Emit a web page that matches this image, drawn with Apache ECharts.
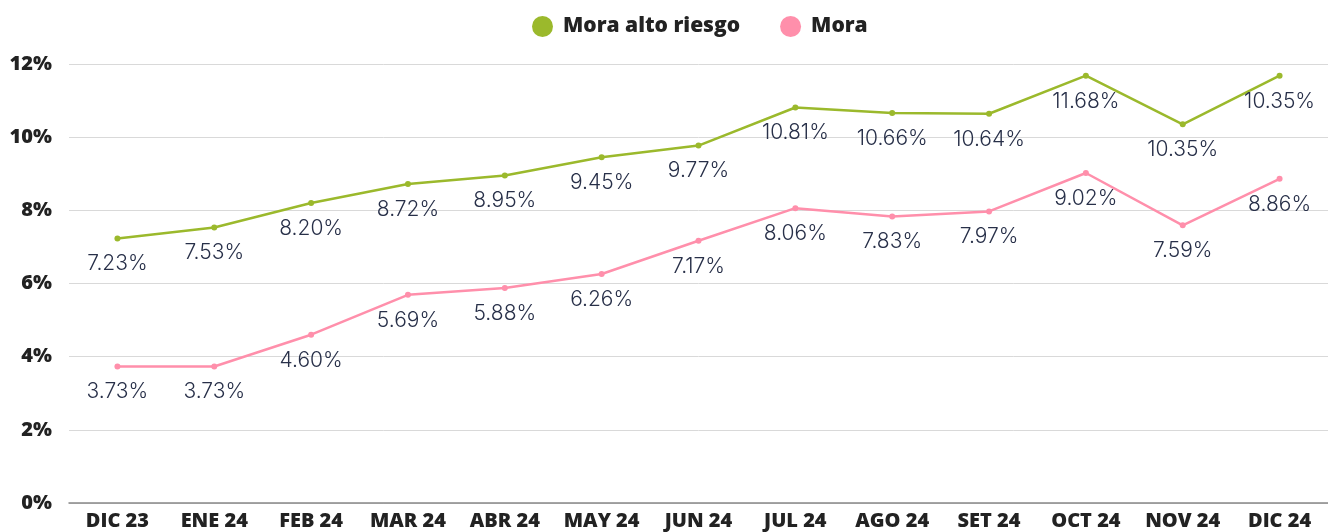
<!DOCTYPE html>
<html>
<head>
<meta charset="utf-8">
<script src="https://cdn.jsdelivr.net/npm/echarts@6/dist/echarts.min.js"></script>
<style>
  html, body { margin: 0; padding: 0; background: #fff; }
  #chart { width: 1328px; height: 532px; }
</style>
</head>
<body>
<div id="chart"></div>
<script>
const months = ['DIC 23', 'ENE 24', 'FEB 24', 'MAR 24', 'ABR 24', 'MAY 24', 'JUN 24',
  'JUL 24', 'AGO 24', 'SET 24', 'OCT 24', 'NOV 24', 'DIC 24']
const moraAltoRiesgo = [7.23, 7.53, 8.20, 8.72, 8.95, 9.45, 9.77, 10.81, 10.66, 10.64, 11.68, 10.35, 11.68]
const mora = [3.73, 3.73, 4.60, 5.69, 5.88, 6.26, 7.17, 8.06, 7.83, 7.97, 9.02, 7.59, 8.86]
// label text as printed on the source (last green label reads 10.35%)
const moraAltoRiesgoLabels = ['7.23%', '7.53%', '8.20%', '8.72%', '8.95%', '9.45%', '9.77%',
  '10.81%', '10.66%', '10.64%', '11.68%', '10.35%', '10.35%']
const moraLabels = ['3.73%', '3.73%', '4.60%', '5.69%', '5.88%', '6.26%', '7.17%',
  '8.06%', '7.83%', '7.97%', '9.02%', '7.59%', '8.86%']
const yTicks = [0, 2, 4, 6, 8, 10, 12]

const GREEN = '#9BB92C'
const PINK = '#FF8FAB'
const LABEL_COLOR = '#283049'

const chart = echarts.init(document.getElementById('chart'))

function lineSeries(name, values, labels, color) {
  return {
    name,
    type: 'line',
    data: values,
    symbol: 'circle',
    symbolSize: 6,
    lineStyle: { color, width: 2.5 },
    itemStyle: { color },
    label: {
      show: true,
      position: 'bottom',
      distance: 12,
      color: LABEL_COLOR,
      fontFamily: 'Inter',
      fontWeight: 300,
      fontSize: 21,
      formatter: (p) => labels[p.dataIndex],
    },
  }
}

chart.setOption({
  animation: false,
  legend: {
    top: 11,
    left: 527,
    icon: 'circle',
    itemWidth: 21,
    itemHeight: 21,
    itemGap: 40,
    textStyle: {
      color: '#222',
      fontFamily: 'Open Sans',
      fontWeight: 800,
      fontSize: 21,
      padding: [0, 0, 0, 5],
    },
    data: ['Mora alto riesgo', 'Mora'],
  },
  grid: { left: 69, width: 1263, top: 64, bottom: 29 },
  xAxis: {
    type: 'category',
    data: months,
    axisTick: { show: false },
    axisLine: { lineStyle: { color: '#888', width: 1.5 } },
    axisLabel: {
      color: '#222',
      fontFamily: 'Open Sans',
      fontWeight: 800,
      fontSize: 20,
      margin: 8,
      interval: 0,
    },
  },
  yAxis: {
    type: 'value',
    min: yTicks[0],
    max: yTicks[yTicks.length - 1],
    interval: 2,
    axisLine: { show: false },
    axisTick: { show: false },
    splitLine: { lineStyle: { color: '#D9D9D9', width: 1 } },
    axisLabel: {
      color: '#222',
      fontFamily: 'Open Sans',
      fontWeight: 800,
      fontSize: 20,
      margin: 17,
      formatter: '{value}%',
    },
  },
  series: [
    lineSeries('Mora alto riesgo', moraAltoRiesgo, moraAltoRiesgoLabels, GREEN),
    lineSeries('Mora', mora, moraLabels, PINK),
  ],
})

window.addEventListener('resize', () => chart.resize())
</script>
</body>
</html>
